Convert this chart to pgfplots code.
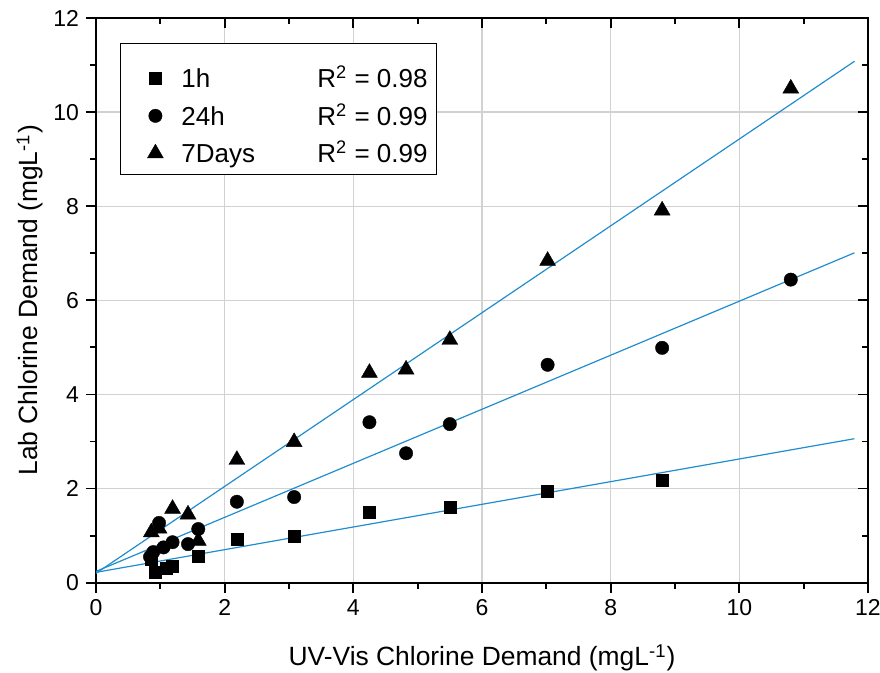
\documentclass[border=0pt]{standalone}
\usepackage{fontspec}
\setmainfont{Liberation Sans}
\usepackage{pgfplots}
\pgfplotsset{compat=1.18}
\definecolor{fitblue}{RGB}{32,141,207}
\definecolor{gridgray}{RGB}{210,210,210}

\pgfplotsset{
  chart/.style={
    scale only axis, width=386pt, height=282.35pt,
    xmin=0, xmax=12, ymin=0, ymax=12,
    xtick={0,2,...,12}, ytick={0,2,...,12},
    minor x tick num=1, minor y tick num=1,
    major tick length=5pt, minor tick length=3pt,
    tick style={black, line width=0.9pt},
  },
}

\begin{document}
\begin{tikzpicture}
\path[use as bounding box] (-48pt,-45.15pt) rectangle (392pt,291.35pt);

\begin{axis}[chart,
  axis line style={line width=1pt},
  tick align=outside, xtick pos=left, ytick pos=left,
  grid=major, major grid style={gridgray, line width=0.7pt},
  ticklabel style={font=\fontsize{11.5}{13}\selectfont},
  /pgf/number format/assume math mode=true,
  xlabel={UV-Vis Chlorine Demand (mgL\textsuperscript{-1})},
  ylabel={Lab Chlorine Demand (mgL\textsuperscript{-1})},
  every axis x label/.style={at={(axis description cs:0.5,-0.133)}, anchor=center,
    font=\fontsize{13.2}{15}\selectfont},
  every axis y label/.style={at={(axis description cs:-0.0855,0.5)}, rotate=90, anchor=center,
    font=\fontsize{13.2}{15}\selectfont},
  legend style={name=leg, at={(0.0311,0.9557)}, anchor=north west, yshift=-7pt,
    draw=none, fill=white,
    inner xsep=2.5pt, inner ysep=1.1pt, row sep=0pt,
    font=\fontsize{13}{15}\selectfont,
    cells={anchor=west},
    nodes={inner xsep=2pt, inner ysep=0pt, text height=14pt, text depth=4.75pt}},
  legend image code/.code={%
    \pgfpathrectangle{\pgfpoint{-15pt}{0pt}}{\pgfpoint{26pt}{0.1pt}}%
    \pgfusepath{use as bounding box}%
    \draw[#1] plot coordinates {(0pt,0pt)};},
]

% 1h
\addplot[only marks, mark=square*, mark size=3pt, mark options={black, fill=black, line width=0.2pt}]
coordinates {(0.92,0.23)(1.09,0.30)(1.19,0.36)(0.86,0.50)(1.59,0.57)(2.19,0.92)(3.08,0.99)
             (4.25,1.49)(5.50,1.61)(7.02,1.95)(8.80,2.18)};
\addlegendentry{\makebox[68pt][l]{1h}R\textsuperscript{2} = 0.98}

% 24h
\addplot[only marks, mark=*, mark size=3.35pt, mark options={black, fill=black, line width=0.2pt}]
coordinates {(0.84,0.55)(0.89,0.65)(1.05,0.75)(0.98,1.27)(1.19,0.86)(1.43,0.82)(1.59,1.14)
             (2.19,1.72)(3.08,1.82)(4.25,3.41)(4.82,2.75)(5.50,3.37)(7.02,4.63)(8.80,4.99)(10.80,6.44)};
\addlegendentry{\makebox[68pt][l]{24h}R\textsuperscript{2} = 0.99}

% 7 days
\addplot[only marks, mark=triangle*, mark size=4.6pt, mark options={black, fill=black, line width=0.2pt}]
coordinates {(0.86,1.07)(0.98,1.15)(1.19,1.57)(1.43,1.45)(1.59,0.89)(2.19,2.61)(3.08,2.99)
             (4.25,4.46)(4.82,4.53)(5.50,5.16)(7.02,6.84)(8.80,7.91)(10.80,10.50)};
\addlegendentry{\makebox[68pt][l]{7Days}R\textsuperscript{2} = 0.99}

% linear fits
\addplot[fitblue, line width=0.6pt, forget plot] coordinates {(0,0.22)(11.79,3.06)};
\addplot[fitblue, line width=0.6pt, forget plot] coordinates {(0,0.24)(11.79,7.01)};
\addplot[fitblue, line width=0.6pt, forget plot] coordinates {(0,0.20)(11.79,11.08)};
\end{axis}

% legend frame, with the extra room above the first row
\fill[white] (leg.north west) rectangle ([yshift=7pt]leg.north east);
\draw[line width=0.5pt] (leg.south west) rectangle ([yshift=7pt]leg.north east);

\begin{axis}[chart,
  axis line style={draw=none},
  tick align=inside, xtick pos=right, ytick pos=right,
  xticklabels={}, yticklabels={},
]
\end{axis}
\end{tikzpicture}
\end{document}
